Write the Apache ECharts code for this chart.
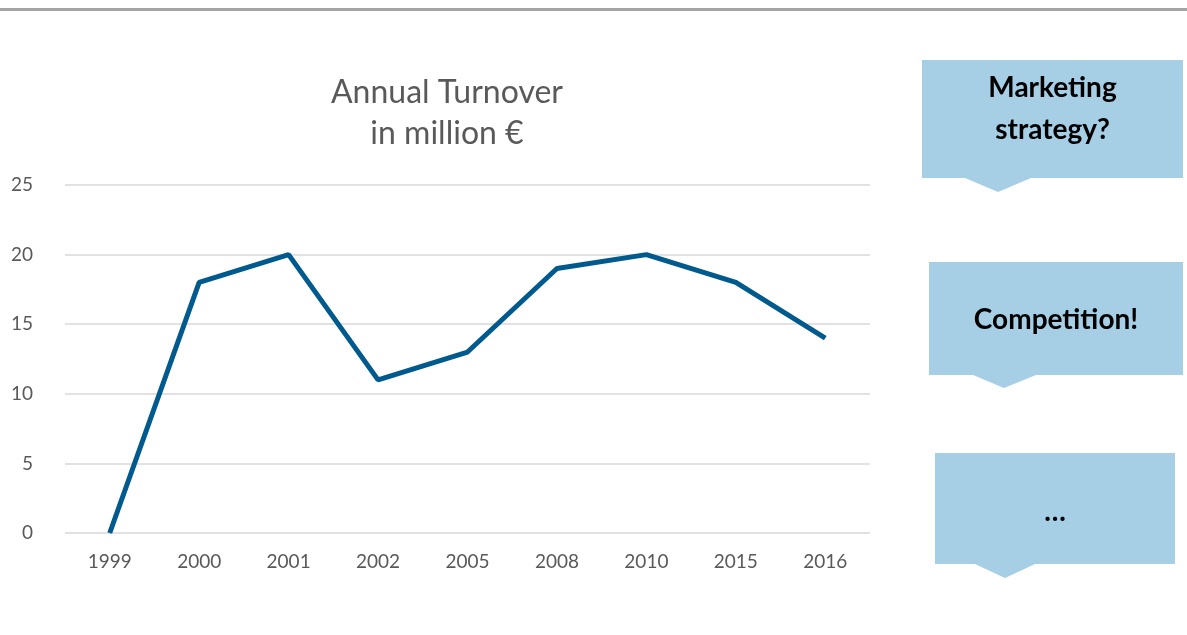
<!DOCTYPE html>
<html><head><meta charset="utf-8">
<script src="https://cdn.jsdelivr.net/npm/echarts@6/dist/echarts.min.js"></script>
<style>html,body{margin:0;padding:0;background:#fff}#c{width:1187px;height:635px}</style>
</head><body><div id="c"></div>
<script>
const categories = ['1999','2000','2001','2002','2005','2008','2010','2015','2016'];
const turnover = [0, 18, 20, 11, 13, 19, 20, 18, 14];
const yTicks = [0, 5, 10, 15, 20, 25];
const titleLines = ['Annual Turnover', 'in million €'];
const callouts = ['Marketing\nstrategy?', 'Competition!', '…'];

const FONT = 'Lato, "Open Sans", sans-serif';
const BOX = '#A6CEE5';
function callout(x, y, w, h, px1, px2, ax, ay, text, ty) {
  return [
    {type:'polygon', shape:{points:[[x,y],[x+w,y],[x+w,y+h],[px2,y+h],[ax,ay],[px1,y+h],[x,y+h]]}, style:{fill:BOX}},
    {type:'text', x:x+w/2, y:ty, style:{text:text, fill:'#000', font:'bold 28px '+FONT, textAlign:'center', textVerticalAlign:'middle', lineHeight:42}}
  ];
}
const chart = echarts.init(document.getElementById('c'));
chart.setOption({
  animation:false,
  title:{text:titleLines.join('\n'), left:442, top:67, textAlign:'center',
    textStyle:{fontFamily:FONT, fontSize:32, fontWeight:'normal', color:'#595959', lineHeight:41}},
  grid:{left:65, right:317, top:185, bottom:102},
  xAxis:{type:'category', data:categories, boundaryGap:true,
    axisLine:{show:false}, axisTick:{show:false},
    axisLabel:{fontFamily:FONT, fontSize:19, color:'#595959', margin:19}},
  yAxis:{type:'value', min:yTicks[0], max:yTicks[yTicks.length-1], interval:5,
    axisLine:{show:false}, axisTick:{show:false},
    splitLine:{lineStyle:{color:'#D9D9D9', width:1.5}},
    axisLabel:{fontFamily:FONT, fontSize:19, color:'#595959', margin:32}},
  series:[{type:'line', data:turnover, symbol:'none', lineStyle:{color:'#005A8E', width:5}}],
  graphic:[
    {type:'rect', shape:{x:0, y:8, width:1187, height:3}, style:{fill:'#A3A3A3'}},
    ...callout(922, 60, 261, 118, 965, 1031, 998, 192, callouts[0], 109),
    ...callout(929, 262, 254, 113, 973, 1036, 1004, 388, callouts[1], 320),
    ...callout(935, 453, 240, 111, 975, 1035, 1005, 578, callouts[2], 512)
  ]
});
</script></body></html>
